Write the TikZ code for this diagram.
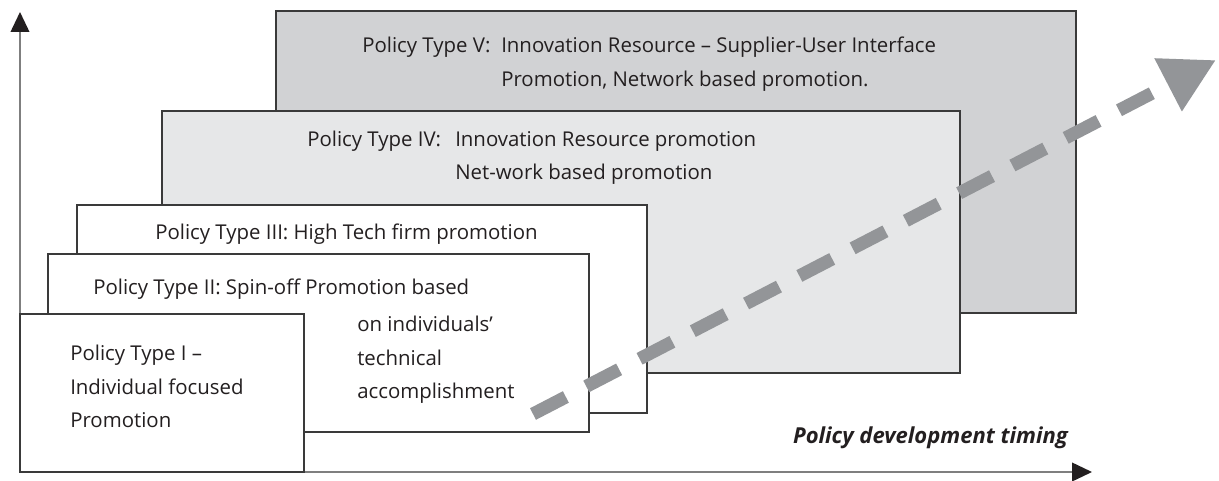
\documentclass[tikz,border=0pt]{standalone}
\usepackage{fontspec}
\setmainfont{Open Sans}
\usetikzlibrary{arrows.meta}
\definecolor{boxline}{HTML}{3A3A3A}
\definecolor{darkfill}{HTML}{D1D2D4}
\definecolor{lightfill}{HTML}{E6E7E8}
\definecolor{dashgray}{HTML}{939598}
\definecolor{axisgray}{HTML}{7F7F7F}
\definecolor{ink}{HTML}{231F20}
\tikzset{>=Triangle}
\tikzset{
  policybox/.style={draw=boxline, line width=1.1pt},
  policytext/.style={anchor=north west, inner sep=0pt, align=left, text=ink,
    font=\fontsize{15.3}{25}\selectfont},
  axis/.style={axisgray, line width=1.3pt,
    -{Triangle[length=15pt, width=14pt, color=ink]}},
}

\begin{document}
\begin{tikzpicture}[x=0.75pt, y=-0.75pt]
    \useasboundingbox (0,0) rectangle (1219,481);
    % axes
    \coordinate (origin) at (20,472);
    \coordinate (ytop) at (20,12);
    \coordinate (xend) at (1092,472);
    \draw [axis] (origin)--(ytop);
    \draw [axis] (origin)--(xend);

    % policy stages, back to front
    \filldraw [policybox, fill=darkfill] (276,11) rectangle (1076,313);
    \filldraw [policybox, fill=lightfill] (162,111) rectangle (960,373);
    \filldraw [policybox, fill=white] (77,205) rectangle (647,413);
    \filldraw [policybox, fill=white] (48,254) rectangle (589,432);
    \filldraw [policybox, fill=white] (20,314) rectangle (304,472);

    \node [policytext] (typeVa) at (362,37) {Policy Type V:};
    \node [policytext] (typeVb) at (501,37) {Innovation Resource -- Supplier-User Interface\\Promotion, Network based promotion.};
    \node [policytext] (typeIVa) at (307,131) {Policy Type IV:};
    \node [policytext] (typeIVb) at (455,131) {Innovation Resource promotion\\Net-work based promotion};
    \node [policytext] (typeIII) at (155,224) {Policy Type III: High Tech firm promotion};
    \node [policytext] (typeIIa) at (93,279) {Policy Type II: Spin-off Promotion based};
    \node [policytext] (typeIIb) at (357,316) {on individuals’\\technical\\accomplishment};
    \node [policytext] (typeI) at (70,345) {Policy Type I --\\Individual focused\\Promotion};

    \node [anchor=base east, inner sep=0pt, text=ink,
      font=\fontsize{16.5}{18}\selectfont\bfseries\itshape] (timing) at (1068,443) {Policy development timing};

    % development trend
    \coordinate (trendstart) at (533,414);
    \coordinate (trendtip) at (1216,60);
    \draw [dashgray, line width=9.75pt, dash pattern=on 27.75pt off 17.25pt,
      -{Triangle[length=40.5pt, width=42pt]}] (trendstart)--(trendtip);
\end{tikzpicture}
\end{document}
